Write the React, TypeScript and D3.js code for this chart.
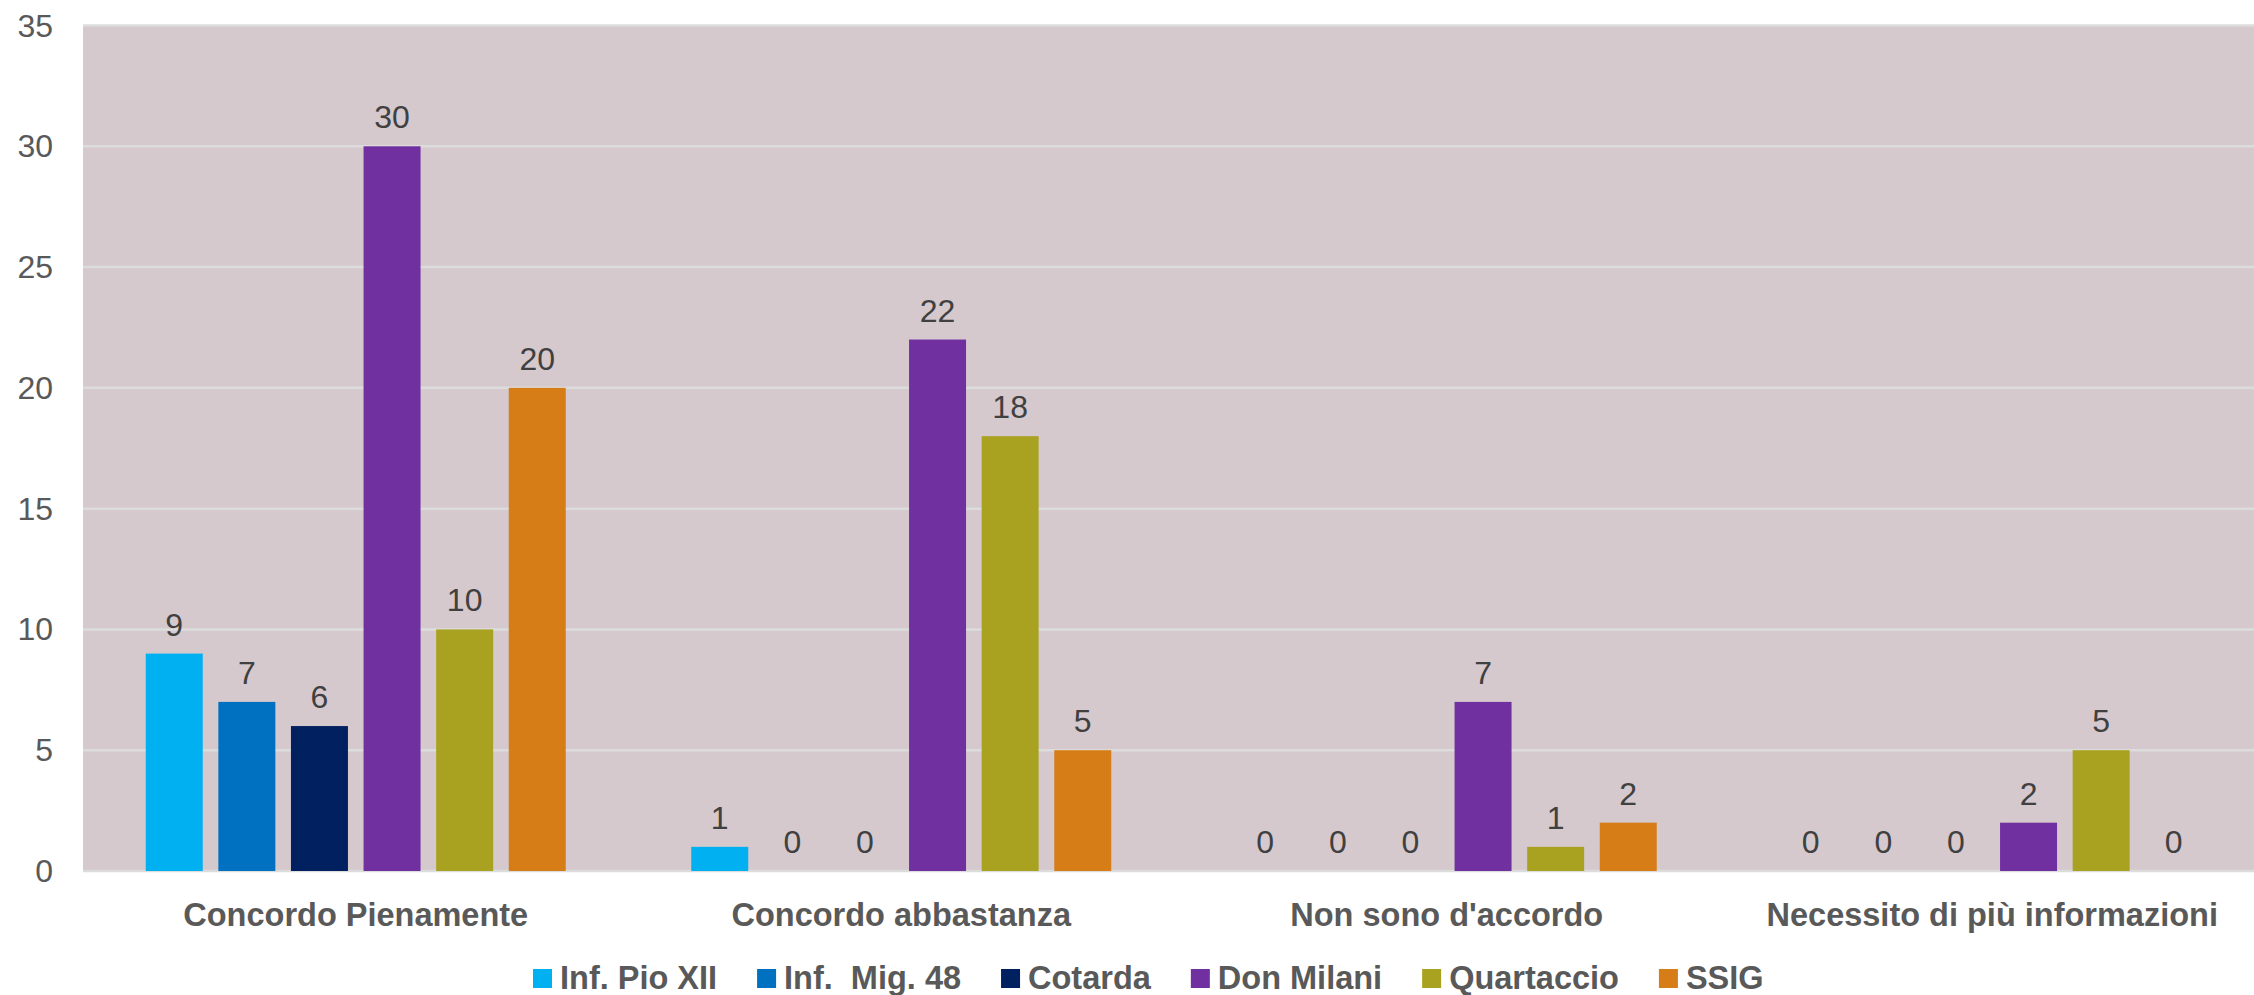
import React, { useMemo } from "react";
import * as d3 from "d3";

const categories = ["Concordo Pienamente", "Concordo abbastanza", "Non sono d'accordo", "Necessito di più informazioni"];
const seriesNames = ["Inf. Pio XII", "Inf.  Mig. 48", "Cotarda", "Don Milani", "Quartaccio", "SSIG"];
const seriesColors = ["#00B0F0", "#0070C0", "#002060", "#7030A0", "#A9A220", "#D67D17"];
const infPio = [9, 1, 0, 0];
const infMig = [7, 0, 0, 0];
const cotarda = [6, 0, 0, 0];
const donMilani = [30, 22, 7, 2];
const quartaccio = [10, 18, 1, 5];
const ssig = [20, 5, 2, 0];
const seriesValues = [infPio, infMig, cotarda, donMilani, quartaccio, ssig];
const yTicks = [0, 5, 10, 15, 20, 25, 30, 35];

const W = 2254;
const H = 995;
const FONT = "'Liberation Sans', Arial, Helvetica, sans-serif";

function measure(text: string, font: string): number {
  const c = document.createElement("canvas");
  const ctx = c.getContext("2d")!;
  ctx.font = font;
  return ctx.measureText(text).width;
}

export default function App() {
  const plotL = 83;
  const plotR = 2265;
  const plotT = 25.5;
  const plotB = 871;

  const x0 = d3.scaleBand<string>().domain(categories).range([plotL, plotR]).padding(0);
  const gw = x0.bandwidth();
  const innerMargin = 62.75;
  const x1 = d3
    .scaleBand<string>()
    .domain(seriesNames)
    .range([innerMargin, gw - innerMargin])
    .paddingInner(0.215)
    .paddingOuter(0);
  const y = d3.scaleLinear().domain([0, 35]).range([plotB, plotT]);

  const legendFont = 32.5;
  const legend = useMemo(() => {
    const font = `bold ${legendFont}px ${FONT}`;
    let x = 533;
    return seriesNames.map((n, i) => {
      const w = measure(n.replace(/ /g, "\u00a0"), font);
      const item = { name: n, color: seriesColors[i], x };
      x += 19 + 8 + w + 40;
      return item;
    });
  }, []);

  return (
    <div style={{ position: "absolute", left: 0, top: 0 }}>
      <svg width={W} height={H} style={{ display: "block" }}>
        <rect x={0} y={0} width={W} height={H} fill="#ffffff" />
        <rect x={plotL} y={plotT} width={plotR - plotL} height={plotB - plotT} fill="#D5C9CE" />
        {yTicks.map((t) => (
          <g key={t}>
            <line x1={plotL} x2={plotR} y1={y(t)} y2={y(t)} stroke="#DCDCDC" strokeWidth={2.5} />
            <text
              x={53}
              y={y(t)}
              textAnchor="end"
              dominantBaseline="central"
              fontFamily={FONT}
              fontSize={32}
              fill="#595959"
            >
              {t}
            </text>
          </g>
        ))}
        {categories.map((c, ci) => (
          <g key={c} transform={`translate(${x0(c)},0)`}>
            {seriesNames.map((s, si) => {
              const v = seriesValues[si][ci];
              const bx = x1(s)!;
              return (
                <g key={s}>
                  {v > 0 && (
                    <rect x={bx} y={y(v)} width={x1.bandwidth()} height={y(0) - y(v)} fill={seriesColors[si]} />
                  )}
                  <text
                    x={bx + x1.bandwidth() / 2}
                    y={y(v) - 18}
                    textAnchor="middle"
                    fontFamily={FONT}
                    fontSize={32}
                    fill="#404040"
                  >
                    {v}
                  </text>
                </g>
              );
            })}
            <text
              x={gw / 2}
              y={926}
              textAnchor="middle"
              fontFamily={FONT}
              fontSize={32.5}
              fontWeight="bold"
              fill="#595959"
            >
              {c}
            </text>
          </g>
        ))}
        {legend.map((l) => (
          <g key={l.name}>
            <rect x={l.x} y={969} width={19} height={19} fill={l.color} />
            <text
              x={l.x + 27}
              y={989}
              fontFamily={FONT}
              fontSize={legendFont}
              fontWeight="bold"
              fill="#595959"
              style={{ whiteSpace: "pre" }}
            >
              {l.name}
            </text>
          </g>
        ))}
      </svg>
    </div>
  );
}
